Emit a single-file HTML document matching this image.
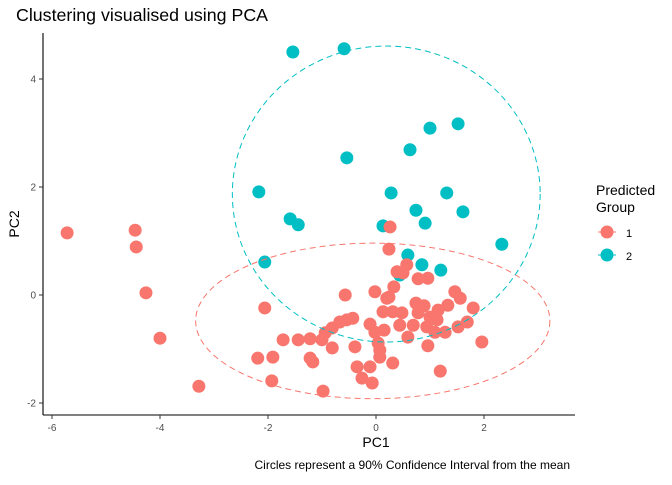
<!DOCTYPE html>
<html><head><meta charset="utf-8"><style>
body{margin:0;background:#fff}
svg text{font-family:"Liberation Sans",sans-serif}
</style></head><body>
<svg id="c" width="672" height="480" xmlns="http://www.w3.org/2000/svg">
<text x="16" y="21" font-size="17.8" fill="#000">Clustering visualised using PCA</text>
<g id="plot"></g>
<line x1="43" y1="33" x2="43" y2="415" stroke="#000" stroke-width="1.1"/>
<line x1="43" y1="415" x2="575" y2="415" stroke="#000" stroke-width="1.1"/>
<g id="ticks"></g>
<text x="376" y="447" font-size="14" text-anchor="middle">PC1</text>
<text x="19" y="224" font-size="14" text-anchor="middle" transform="rotate(-90 19 224)">PC2</text>
<text x="570" y="469" font-size="12" text-anchor="end">Circles represent a 90% Confidence Interval from the mean</text>
<g>
<text x="596" y="195" font-size="14">Predicted</text>
<text x="596" y="212" font-size="14">Group</text>
<g>
<line x1="598" y1="232" x2="616" y2="232" stroke="#F8766D" stroke-dasharray="3,2"/>
<circle cx="607" cy="232" r="6.5" fill="#F8766D"/>
<text x="626" y="237" font-size="11">1</text></g>
<g>
<line x1="598" y1="255" x2="616" y2="255" stroke="#00BFC4" stroke-dasharray="3,2"/>
<circle cx="607" cy="255" r="6.5" fill="#00BFC4"/>
<text x="626" y="260" font-size="11">2</text></g>
</g>
</svg>
<script>
const xTicks=[-6,-4,-2,0,2];
const yTicks=[-2,0,2,4];
const group1X=[0.26,0.24,0.57,0.39,0.50,0.78,0.96,-0.57,-0.02,0.33,0.20,0.24,0.13,0.31,0.48,0.44,0.69,0.74,0.89,0.78,1.00,1.15,1.13,0.94,1.33,1.46,1.56,1.80,1.69,1.52,1.28,1.09,0.59,0.96,1.96,1.19,-0.11,-0.02,0.15,0.04,0.07,0.07,0.31,-0.39,-0.11,-0.35,-0.26,-0.07,-0.43,-0.54,-0.67,-0.81,-0.94,-1.00,-1.22,-0.81,-1.22,-1.17,-0.98,-5.72,-4.46,-4.44,-4.26,-4.00,-3.28,-2.06,-2.19,-1.91,-1.93,-1.72,-1.44];
const group1Y=[1.26,0.85,0.56,0.43,0.41,0.30,0.31,0,0.06,0.15,-0.06,-0.04,-0.31,-0.31,-0.33,-0.56,-0.56,-0.15,-0.20,-0.33,-0.41,-0.28,-0.46,-0.59,-0.19,0.06,-0.06,-0.24,-0.50,-0.59,-0.69,-0.69,-0.78,-0.94,-0.87,-1.41,-0.54,-0.69,-0.65,-0.89,-1.02,-1.15,-1.26,-0.96,-1.33,-1.33,-1.54,-1.63,-0.43,-0.46,-0.50,-0.61,-0.70,-0.83,-0.81,-0.98,-1.17,-1.24,-1.78,1.15,1.20,0.89,0.04,-0.80,-1.69,-0.24,-1.17,-1.15,-1.59,-0.83,-0.83];
const group2X=[-1.54,-0.59,1.00,1.52,0.63,-0.54,-2.17,0.28,1.31,-1.59,-1.44,0.74,1.61,0.91,0.13,2.33,-2.06,0.59,0.85,1.20,0.44];
const group2Y=[4.50,4.56,3.09,3.17,2.69,2.54,1.91,1.89,1.89,1.41,1.30,1.57,1.54,1.33,1.28,0.94,0.61,0.74,0.56,0.46,0.37];
const ellipse1=[-0.06,-0.48,3.28,1.44];
const ellipse2=[0.19,1.87,2.85,2.74];
const NS="http://www.w3.org/2000/svg";
const sx=v=>376+v*54, sy=v=>295-v*54;
const plot=document.getElementById('plot'), ticks=document.getElementById('ticks');
function mk(tag,attrs,parent){const e=document.createElementNS(NS,tag);for(const k in attrs)e.setAttribute(k,attrs[k]);parent.appendChild(e);return e;}
xTicks.forEach(t=>{
 const l=mk('line',{x1:sx(t),x2:sx(t),y1:415,y2:419,stroke:'#333'},ticks);
 
 
 const tx=mk('text',{x:sx(t),y:431,'font-size':'10','text-anchor':'middle',fill:'#4d4d4d'},ticks);
 tx.textContent=t;
 
 
});
yTicks.forEach(t=>{
 const l=mk('line',{x1:39,x2:43,y1:sy(t),y2:sy(t),stroke:'#333'},ticks);
 
 
 const tx=mk('text',{x:36,y:sy(t)+3.5,'font-size':'10','text-anchor':'end',fill:'#4d4d4d'},ticks);
 tx.textContent=t;
 
 
});
group2X.forEach((x,i)=>{
 const c=mk('circle',{cx:sx(x),cy:sy(group2Y[i]),r:6.5,fill:'#00BFC4'},plot);
 
 
});
group1X.forEach((x,i)=>{
 const c=mk('circle',{cx:sx(x),cy:sy(group1Y[i]),r:6.5,fill:'#F8766D'},plot);
 
 
});
const e1=mk('ellipse',{cx:sx(ellipse1[0]),cy:sy(ellipse1[1]),rx:ellipse1[2]*54,ry:ellipse1[3]*54,fill:'none',stroke:'#F8766D','stroke-dasharray':'6,4'},plot);


const e2=mk('ellipse',{cx:sx(ellipse2[0]),cy:sy(ellipse2[1]),rx:ellipse2[2]*54,ry:ellipse2[3]*54,fill:'none',stroke:'#00BFC4','stroke-dasharray':'6,4'},plot);


</script>
</body></html>
